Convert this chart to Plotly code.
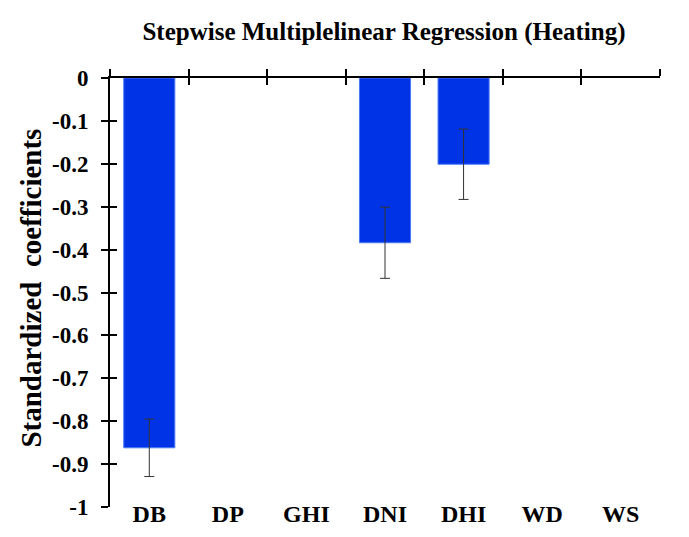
import plotly.graph_objects as go

categories = ["DB", "DP", "GHI", "DNI", "DHI", "WD", "WS"]
coefficients = [-0.862, None, None, -0.384, -0.201, None, None]
errors = [0.067, 0, 0, 0.083, 0.082, 0, 0]
y_ticks = [0, -0.1, -0.2, -0.3, -0.4, -0.5, -0.6, -0.7, -0.8, -0.9, -1]
y_tick_labels = ["0", "-0.1", "-0.2", "-0.3", "-0.4", "-0.5", "-0.6", "-0.7", "-0.8", "-0.9", "-1"]

FONT = "Liberation Serif"
xpos = list(range(len(categories)))
bounds = [i - 0.5 for i in range(len(categories) + 1)]

fig = go.Figure()
fig.add_trace(go.Bar(
    x=xpos, y=coefficients, width=0.65,
    marker=dict(color="#0033E6", line=dict(color="#4A78F5", width=1)),
    error_y=dict(type="data", array=errors, visible=True,
                 color="#333333", thickness=1, width=5),
    showlegend=False,
))
# invisible helpers so overlay axes are drawn
for xa, ya in [("x2", "y"), ("x3", "y"), ("x", "y2")]:
    fig.add_trace(go.Scatter(x=[0], y=[0], xaxis=xa, yaxis=ya, mode="markers",
                             marker=dict(opacity=0), showlegend=False,
                             hoverinfo="skip"))

common = dict(showgrid=False, zeroline=False, automargin=False)
xr = [-0.5, 6.5]
fig.update_layout(
    width=689, height=537,
    paper_bgcolor="white", plot_bgcolor="white",
    margin=dict(l=102, r=37, t=70, b=38),
    title=dict(text="<b>Stepwise Multiplelinear Regression (Heating)</b>",
               x=0.5457, xanchor="center", y=0.956, yanchor="middle",
               font=dict(family=FONT, size=25, color="black")),
    xaxis=dict(range=xr, tickvals=xpos, ticktext=[f"<b>{c}</b>" for c in categories],
               ticks="", showline=False, ticklabelstandoff=-10, **common,
               tickfont=dict(family=FONT, size=24, color="black")),
    xaxis2=dict(range=xr, overlaying="x", side="top", anchor="y",
                tickvals=bounds, showticklabels=False, ticks="outside",
                ticklen=7, tickwidth=2, tickcolor="black", showline=True,
                linewidth=2, linecolor="black", **common),
    xaxis3=dict(range=xr, overlaying="x", side="top", anchor="y",
                tickvals=bounds, showticklabels=False, ticks="inside",
                ticklen=7, tickwidth=2, tickcolor="black", showline=False,
                **common),
    yaxis=dict(range=[-1, 0], tickvals=y_ticks,
               ticktext=[f"<b>{t}</b>" for t in y_tick_labels],
               ticks="outside", ticklen=7, tickwidth=2, tickcolor="black",
               showline=True, linewidth=2, linecolor="black",
               ticklabelstandoff=8, **common,
               tickfont=dict(family=FONT, size=23, color="black")),
    yaxis2=dict(range=[-1, 0], overlaying="y", side="left", anchor="x",
                tickvals=y_ticks, showticklabels=False, ticks="inside",
                ticklen=7, tickwidth=2, tickcolor="black", showline=False,
                **common),
    annotations=[dict(text="<b>Standardized  coefficients</b>", textangle=-90,
                      xref="paper", yref="paper", x=-0.143, y=0.51,
                      xanchor="center", yanchor="middle", showarrow=False,
                      font=dict(family=FONT, size=29, color="black"))],
)
fig.write_html("out.html")
